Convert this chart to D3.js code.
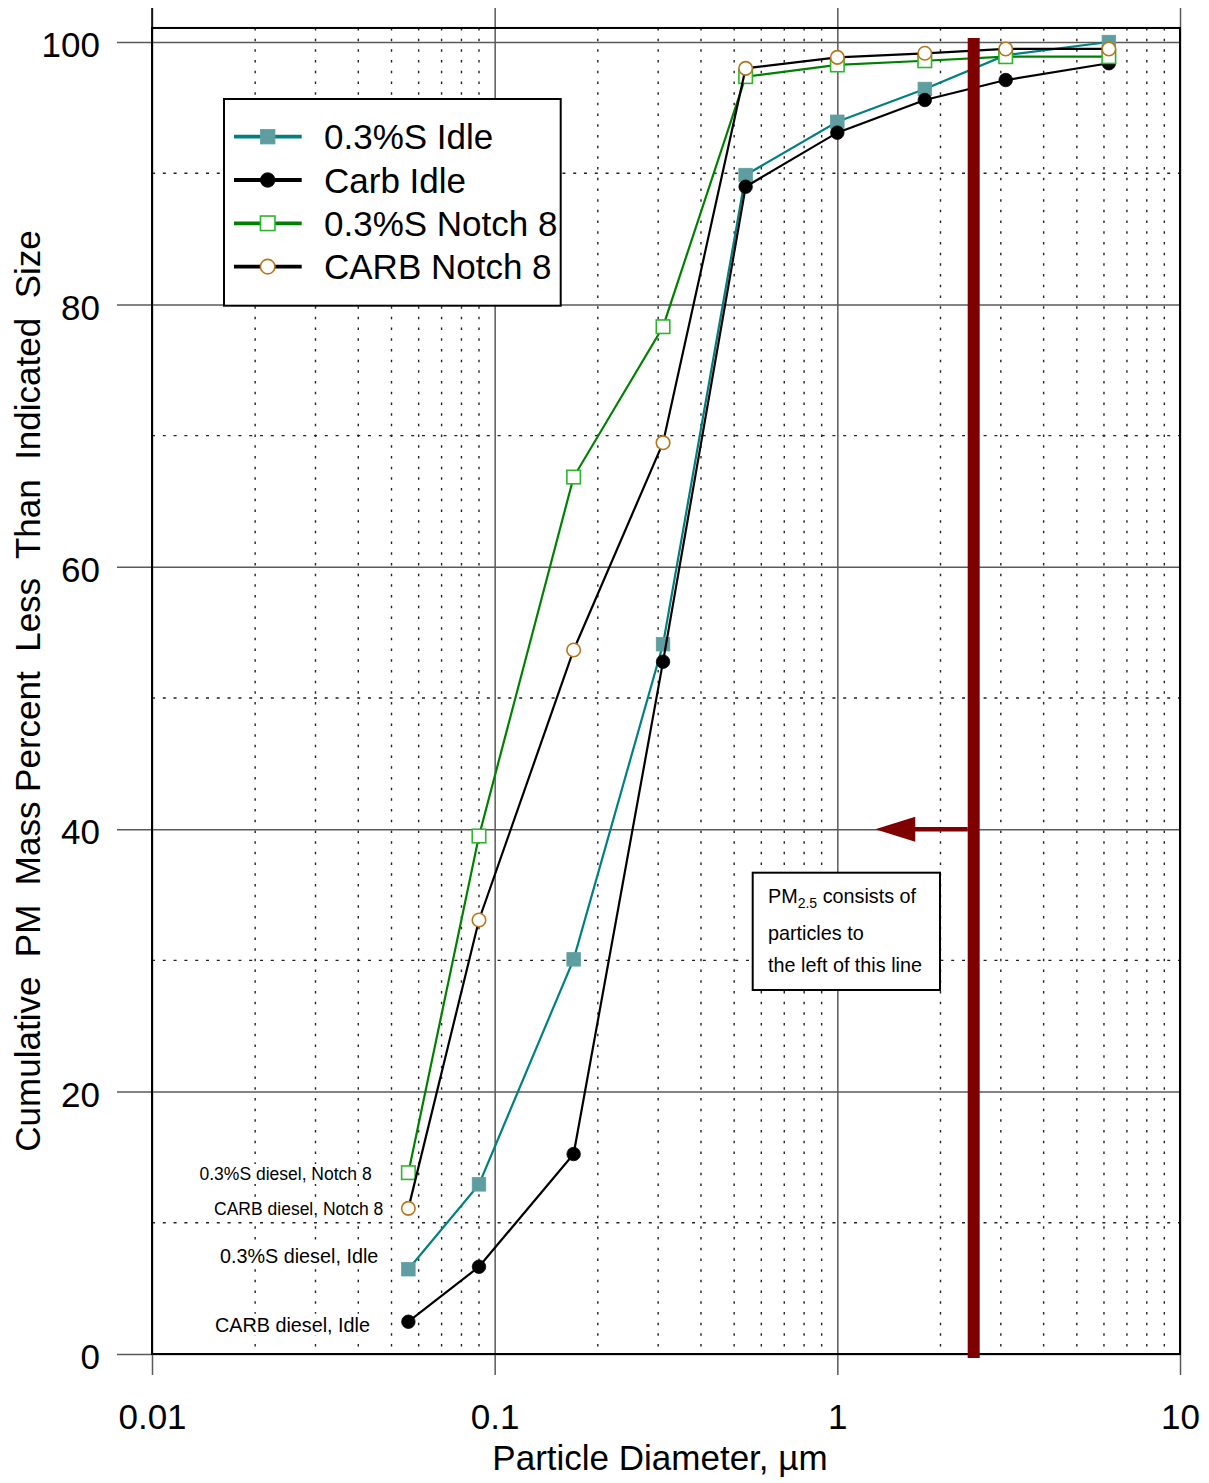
<!DOCTYPE html>
<html>
<head>
<meta charset="utf-8">
<script src="https://cdn.jsdelivr.net/npm/d3@7"></script>
<style>
  html, body { margin: 0; padding: 0; background: #fff; }
  svg { display: block; font-family: "Liberation Sans", Arial, sans-serif; }
</style>
</head>
<body>
<svg id="chart" width="1209" height="1483"></svg>
<script>
// Impactor stage diameters (µm) and cumulative mass fractions (%)
const diameters = [0.056, 0.09, 0.17, 0.31, 0.54, 1.0, 1.8, 3.1, 6.2];
const lowSulfurIdle  = [6.46, 12.93, 30.08, 54.1, 89.86, 93.92, 96.42, 99.0, 100.0];
const carbIdle       = [2.46, 6.65, 15.24, 52.77, 88.97, 93.09, 95.58, 97.1, 98.38];
const lowSulfurNotch = [13.82, 39.48, 66.84, 78.3, 97.36, 98.25, 98.57, 98.88, 98.88];
const carbNotch      = [11.1, 33.08, 53.66, 69.46, 97.99, 98.83, 99.14, 99.47, 99.47];

const seriesNames = ["0.3%S Idle", "Carb Idle", "0.3%S Notch 8", "CARB Notch 8"];
const xTicks = [0.01, 0.1, 1, 10];
const xTickLabels = ["0.01", "0.1", "1", "10"];
const yTicks = [0, 20, 40, 60, 80, 100];
const yMinorTicks = [10, 30, 50, 70, 90];
const pointLabels = ["0.3%S diesel, Notch 8", "CARB diesel, Notch 8", "0.3%S diesel, Idle", "CARB diesel, Idle"];

// PM2.5 cut line and arrow (data units)
const pm25 = 2.5;
const cutRange = [-0.3, 100.3];
const arrowTip = 1.29;
const arrowLevel = 40;

(function () {
const svg = d3.select("#chart");
const plotLeft = 152, plotRight = 1180, plotTop = 42, plotBottom = 1354;

const x = d3.scaleLog().domain([0.01, 10]).range([plotLeft, plotRight]);
const y = d3.scaleLinear().domain([0, 100]).range([plotBottom, plotTop]);
const frameTop = y(101.07);

const styles = [
  { line: "#008080", shape: "square", fill: "#5f9ea0", stroke: "#5f9ea0" },
  { line: "#000000", shape: "circle", fill: "#000000", stroke: "#000000" },
  { line: "#008000", shape: "square", fill: "#ffffff", stroke: "#2db52d" },
  { line: "#000000", shape: "circle", fill: "#ffffff", stroke: "#b8761c" }
];
const seriesValues = [lowSulfurIdle, carbIdle, lowSulfurNotch, carbNotch];

// Minor grid (dotted)
const minorX = [];
[0.01, 0.1, 1].forEach(d => { for (let k = 2; k <= 9; k++) minorX.push(d * k); });
svg.append("g").selectAll("line").data(minorX).join("line")
  .attr("x1", d => x(d)).attr("x2", d => x(d))
  .attr("y1", frameTop).attr("y2", plotBottom)
  .attr("stroke", "#222").attr("stroke-width", 1.4)
  .attr("stroke-dasharray", "2.5,8.2");
svg.append("g").selectAll("line").data(yMinorTicks).join("line")
  .attr("x1", plotLeft).attr("x2", plotRight)
  .attr("y1", d => y(d)).attr("y2", d => y(d))
  .attr("stroke", "#222").attr("stroke-width", 1.4)
  .attr("stroke-dasharray", "3,7.8");

// Major grid via axes
const yAxis = svg.append("g").attr("transform", `translate(${plotLeft},0)`)
  .call(d3.axisLeft(y).tickValues(yTicks).tickFormat(d3.format("d")).tickSize(35));
yAxis.select(".domain").remove();
yAxis.selectAll(".tick line").attr("x1", plotRight - plotLeft).attr("x2", -35)
  .attr("stroke", "#5a5a5a").attr("stroke-width", 1.5);
yAxis.selectAll(".tick text").attr("x", -52).attr("dy", "0.42em")
  .attr("font-size", 35).attr("font-family", "Liberation Sans, Arial, sans-serif")
  .attr("fill", "#000");

const xAxis = svg.append("g").attr("transform", `translate(0,${plotBottom})`)
  .call(d3.axisBottom(x).tickValues(xTicks).tickFormat((d, i) => xTickLabels[i]).tickSize(21));
xAxis.select(".domain").remove();
xAxis.selectAll(".tick line").attr("y1", frameTop - 20 - plotBottom).attr("y2", 21)
  .attr("stroke", "#5a5a5a").attr("stroke-width", 1.5);
xAxis.selectAll(".tick text").attr("y", 75).attr("dy", 0)
  .attr("font-size", 35).attr("font-family", "Liberation Sans, Arial, sans-serif")
  .attr("fill", "#000");

// Plot frame
svg.append("rect").attr("x", plotLeft).attr("y", frameTop)
  .attr("width", plotRight - plotLeft).attr("height", plotBottom - frameTop)
  .attr("fill", "none").attr("stroke", "#000").attr("stroke-width", 2);
svg.append("line").attr("x1", plotLeft).attr("x2", plotLeft).attr("y1", frameTop - 20).attr("y2", frameTop)
  .attr("stroke", "#000").attr("stroke-width", 1.5);

// Axis titles
svg.append("text").attr("x", 660).attr("y", 1470).attr("text-anchor", "middle")
  .attr("font-size", 35).text("Particle Diameter, µm");
svg.append("text").attr("transform", `translate(40,${(frameTop + plotBottom) / 2}) rotate(-90)`)
  .attr("text-anchor", "middle").attr("font-size", 35)
  .style("white-space", "pre").attr("xml:space", "preserve")
  .text("Cumulative  PM  Mass Percent  Less  Than  Indicated  Size");

// Point labels at the first stage, on white backing
const labelPos = [
  { x: 371.7, y: 1180, size: 17.5 },
  { x: 383.3, y: 1215, size: 17.5 },
  { x: 378.3, y: 1262.7, size: 19.8 },
  { x: 370, y: 1331.7, size: 19.8 }
];
const labelG = svg.append("g");
pointLabels.forEach((txt, i) => {
  const bg = labelG.append("rect").attr("fill", "#fff");
  const t = labelG.append("text")
    .attr("x", labelPos[i].x).attr("y", labelPos[i].y)
    .attr("font-size", labelPos[i].size).attr("text-anchor", "end")
    .text(txt);
  const b = t.node().getBBox();
  bg.attr("x", b.x - 2).attr("y", b.y).attr("width", b.width + 4).attr("height", b.height);
});

// Series
const line = d3.line().x(d => x(d[0])).y(d => y(d[1]));
function drawMarker(g, s, cx, cy, size) {
  const sw = s.fill === "#ffffff" ? 1.6 : 0.8;
  if (s.shape === "square") {
    g.append("rect").attr("x", cx - size / 2).attr("y", cy - size / 2)
      .attr("width", size).attr("height", size)
      .attr("fill", s.fill).attr("stroke", s.stroke).attr("stroke-width", sw);
  } else {
    g.append("circle").attr("cx", cx).attr("cy", cy).attr("r", size / 2)
      .attr("fill", s.fill).attr("stroke", s.stroke).attr("stroke-width", sw);
  }
}
seriesValues.forEach((vals, i) => {
  const s = styles[i];
  const pts = diameters.map((d, j) => [d, vals[j]]);
  const g = svg.append("g");
  g.append("path").attr("d", line(pts)).attr("fill", "none")
    .attr("stroke", s.line).attr("stroke-width", 2.2);
  pts.forEach(p => drawMarker(g, s, x(p[0]), y(p[1]), 13.5));
});

// PM2.5 cut line and arrow
svg.append("line").attr("x1", x(pm25)).attr("x2", x(pm25))
  .attr("y1", y(cutRange[0])).attr("y2", y(cutRange[1]))
  .attr("stroke", "#7f0000").attr("stroke-width", 12);
const tipX = x(arrowTip), ay = y(arrowLevel);
svg.append("line").attr("x1", x(pm25) - 6).attr("x2", tipX + 38).attr("y1", ay).attr("y2", ay)
  .attr("stroke", "#7f0000").attr("stroke-width", 4.5);
svg.append("path")
  .attr("d", `M${tipX},${ay} L${tipX + 40},${ay - 12.5} L${tipX + 40},${ay + 12.5} Z`)
  .attr("fill", "#7f0000");

// Annotation box
const note = svg.append("g");
note.append("rect").attr("x", 752.7).attr("y", 872.7).attr("width", 187.3).attr("height", 117.3)
  .attr("fill", "#fff").attr("stroke", "#000").attr("stroke-width", 2);
const t1 = note.append("text").attr("x", 768).attr("y", 902.7).attr("font-size", 19.8);
t1.append("tspan").text("PM");
t1.append("tspan").attr("font-size", 14).attr("dy", 5).text("2.5");
t1.append("tspan").attr("dy", -5).text(" consists of");
note.append("text").attr("x", 768).attr("y", 940).attr("font-size", 19.8).text("particles to");
note.append("text").attr("x", 768).attr("y", 971.7).attr("font-size", 19.8).text("the left of this line");

// Legend
const lg = svg.append("g");
lg.append("rect").attr("x", 224).attr("y", 99).attr("width", 336.7).attr("height", 206.7)
  .attr("fill", "#fff").attr("stroke", "#000").attr("stroke-width", 2);
seriesNames.forEach((name, i) => {
  const ry = 136.7 + i * 43.3;
  const s = styles[i];
  lg.append("line").attr("x1", 234).attr("x2", 301.7).attr("y1", ry).attr("y2", ry)
    .attr("stroke", s.line).attr("stroke-width", 3.8);
  drawMarker(lg, s, 267.7, ry, 14.5);
  lg.append("text").attr("x", 324).attr("y", ry).attr("dy", "0.36em")
    .attr("font-size", 35).text(name);
});
})();
</script>
</body>
</html>
